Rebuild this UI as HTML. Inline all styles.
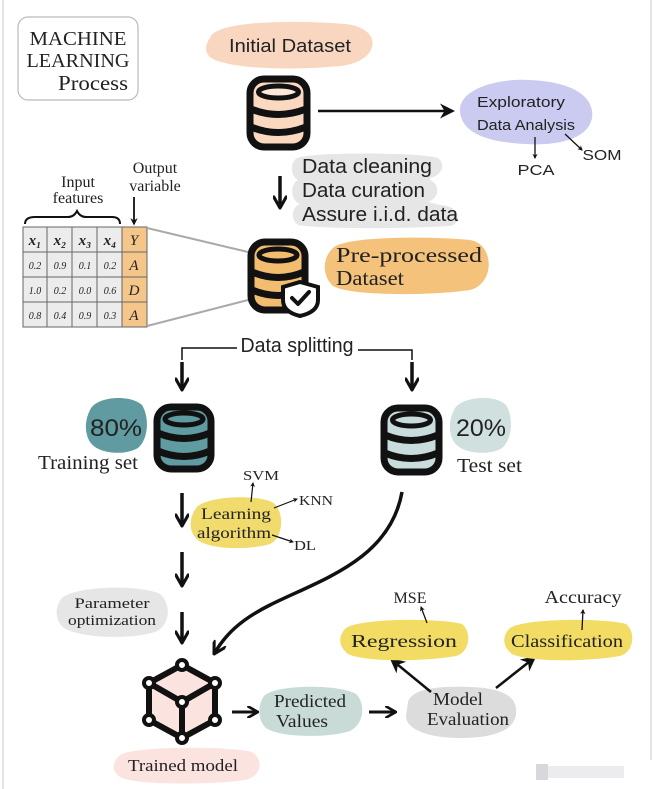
<!DOCTYPE html>
<html><head><meta charset="utf-8"><style>
html,body{margin:0;padding:0;background:#fff}
svg{display:block}
text{font-family:"Liberation Sans",sans-serif;fill:#222}
.s{font-family:"Liberation Serif",serif}
</style></head><body>
<svg width="656" height="789" viewBox="0 0 656 789" xmlns="http://www.w3.org/2000/svg">
<defs>
<marker id="a" viewBox="0 0 10 10" refX="8" refY="5" markerWidth="4" markerHeight="4" orient="auto"><path d="M0,0 L10,5 L0,10 L3,5Z" fill="#111"/></marker>
<marker id="b" viewBox="0 0 10 10" refX="8" refY="5" markerWidth="6" markerHeight="6" orient="auto"><path d="M0,0 L10,5 L0,10 L3,5Z" fill="#111"/></marker>
<marker id="v" viewBox="0 0 10 10" refX="9" refY="5" markerWidth="4" markerHeight="4" orient="auto"><path d="M1,0.5 L9,5 L1,9.5" fill="none" stroke="#111" stroke-width="2.2" stroke-linecap="round" stroke-linejoin="round"/></marker>
</defs>
<rect x="0" y="0" width="656" height="789" fill="#fff"/>
<line x1="3" y1="0" x2="3" y2="789" stroke="#e4e4e4" stroke-width="2"/>
<line x1="651" y1="0" x2="651" y2="760" stroke="#e4e4e4" stroke-width="2"/>

<!-- title -->
<rect x="18" y="17" width="120" height="83" rx="10" fill="#fff" stroke="#bbb" stroke-width="1.2"/>
<text x="78" y="45" text-anchor="middle" font-size="20" textLength="97" lengthAdjust="spacingAndGlyphs" class="s">MACHINE</text>
<text x="78" y="67" text-anchor="middle" font-size="20" textLength="103" lengthAdjust="spacingAndGlyphs" class="s">LEARNING</text>
<text x="128" y="90" text-anchor="end" font-size="21" textLength="70" lengthAdjust="spacingAndGlyphs" class="s">Process</text>

<!-- Initial dataset -->
<path d="M210,38 C215,20 300,20 345,24 C385,28 380,62 340,66 C300,70 240,70 215,60 C203,55 205,45 210,38Z" fill="#f9d6bf"/>
<text x="290" y="52" text-anchor="middle" font-size="18" textLength="122" lengthAdjust="spacingAndGlyphs">Initial Dataset</text>

<!-- DB1 -->
<g stroke="#111" stroke-width="7" fill="#fbd8c0">
<rect x="250" y="79" width="57" height="68" rx="14"/>
<ellipse cx="278.5" cy="92" rx="20" ry="6" fill="#fde7d8" stroke-width="5"/>
<path d="M251,109 Q278,120 306,109 M251,127 Q278,138 306,127" fill="none"/>
</g>
<line x1="318" y1="111" x2="452" y2="111" stroke="#111" stroke-width="2.5" marker-end="url(#b)"/>

<!-- EDA -->
<path d="M460,112 C458,88 500,78 530,80 C575,82 595,98 592,118 C588,140 555,146 525,144 C485,142 462,132 460,112Z" fill="#cbcaf0"/>
<text x="521" y="107" text-anchor="middle" font-size="15" textLength="88" lengthAdjust="spacingAndGlyphs">Exploratory</text>
<text x="526" y="130" text-anchor="middle" font-size="15" textLength="98" lengthAdjust="spacingAndGlyphs">Data Analysis</text>
<line x1="535" y1="137" x2="535" y2="158" stroke="#111" stroke-width="1.3" marker-end="url(#a)"/>
<line x1="565" y1="134" x2="582" y2="150" stroke="#111" stroke-width="1.3" marker-end="url(#a)"/>
<text x="536" y="175" text-anchor="middle" font-size="15" textLength="37" lengthAdjust="spacingAndGlyphs">PCA</text>
<text x="602" y="160" text-anchor="middle" font-size="15" textLength="39" lengthAdjust="spacingAndGlyphs">SOM</text>

<!-- cleaning -->
<path d="M297,158 C310,152 420,152 438,158 C446,164 442,176 430,178 L430,180 C440,184 440,198 428,202 L440,205 C462,206 462,224 450,226 C400,229 320,229 298,225 C290,220 292,206 300,204 C290,200 290,184 298,180 C290,176 290,162 297,158Z" fill="#e6e6e6"/>
<text x="302" y="173" font-size="20" textLength="130" lengthAdjust="spacingAndGlyphs">Data cleaning</text>
<text x="302" y="197" font-size="20" textLength="123" lengthAdjust="spacingAndGlyphs">Data curation</text>
<text x="302" y="221" font-size="20" textLength="156" lengthAdjust="spacingAndGlyphs">Assure i.i.d. data</text>
<line x1="280" y1="176" x2="280" y2="208" stroke="#111" stroke-width="3.5" marker-end="url(#v)"/>

<!-- table -->
<text x="78" y="187" text-anchor="middle" font-size="16" class="s">Input</text>
<text x="78" y="203" text-anchor="middle" font-size="16" class="s">features</text>
<text x="155" y="173" text-anchor="middle" font-size="16" class="s">Output</text>
<text x="155" y="191" text-anchor="middle" font-size="16" class="s">variable</text>
<path d="M25,224 Q25,217 35,217 L68,217 Q74,217 77,211 Q80,217 86,217 L112,217 Q120,217 120,224" fill="none" stroke="#111" stroke-width="2"/>
<line x1="134" y1="197" x2="134" y2="224" stroke="#111" stroke-width="1.8" marker-end="url(#a)"/>
<rect x="23" y="227" width="99" height="100" fill="#ececec"/>
<rect x="122" y="227" width="25" height="100" fill="#f5c68a"/>
<g stroke="#666" stroke-width="1">
<rect x="23" y="227" width="124" height="100" fill="none"/>
<line x1="47" y1="227" x2="47" y2="327"/><line x1="72" y1="227" x2="72" y2="327"/><line x1="97" y1="227" x2="97" y2="327"/><line x1="122" y1="227" x2="122" y2="327"/>
<line x1="23" y1="252" x2="147" y2="252"/><line x1="23" y1="277" x2="147" y2="277"/><line x1="23" y1="302" x2="147" y2="302"/>
</g>
<g class="s" font-style="italic" font-size="10">
<text x="35" y="245" font-size="15" font-weight="bold" text-anchor="middle" class="s">x₁</text>
<text x="60" y="245" font-size="15" font-weight="bold" text-anchor="middle" class="s">x₂</text>
<text x="85" y="245" font-size="15" font-weight="bold" text-anchor="middle" class="s">x₃</text>
<text x="110" y="245" font-size="15" font-weight="bold" text-anchor="middle" class="s">x₄</text>
<text x="134" y="245" font-size="15" text-anchor="middle" class="s" font-style="italic">Y</text>
<text x="35" y="269" text-anchor="middle" class="s" font-style="italic" font-size="10">0.2</text>
<text x="60" y="269" text-anchor="middle" class="s" font-style="italic" font-size="10">0.9</text>
<text x="85" y="269" text-anchor="middle" class="s" font-style="italic" font-size="10">0.1</text>
<text x="110" y="269" text-anchor="middle" class="s" font-style="italic" font-size="10">0.2</text>
<text x="134" y="270" text-anchor="middle" class="s" font-style="italic" font-size="15">A</text>
<text x="35" y="294" text-anchor="middle" class="s" font-style="italic" font-size="10">1.0</text>
<text x="60" y="294" text-anchor="middle" class="s" font-style="italic" font-size="10">0.2</text>
<text x="85" y="294" text-anchor="middle" class="s" font-style="italic" font-size="10">0.0</text>
<text x="110" y="294" text-anchor="middle" class="s" font-style="italic" font-size="10">0.6</text>
<text x="134" y="295" text-anchor="middle" class="s" font-style="italic" font-size="15">D</text>
<text x="35" y="319" text-anchor="middle" class="s" font-style="italic" font-size="10">0.8</text>
<text x="60" y="319" text-anchor="middle" class="s" font-style="italic" font-size="10">0.4</text>
<text x="85" y="319" text-anchor="middle" class="s" font-style="italic" font-size="10">0.9</text>
<text x="110" y="319" text-anchor="middle" class="s" font-style="italic" font-size="10">0.3</text>
<text x="134" y="320" text-anchor="middle" class="s" font-style="italic" font-size="15">A</text>
</g>
<line x1="147" y1="228" x2="248" y2="252" stroke="#aaa" stroke-width="2"/>
<line x1="147" y1="326" x2="248" y2="300" stroke="#aaa" stroke-width="2"/>

<!-- DB2 -->
<g stroke="#111" stroke-width="7" fill="#f2bd6f">
<rect x="251" y="242" width="54" height="68" rx="14"/>
<ellipse cx="278" cy="255" rx="19" ry="6" stroke-width="5"/>
<path d="M252,272 Q278,283 304,272 M252,290 Q278,301 304,290" fill="none"/>
</g>
<path d="M300,282 L318,287 L318,300 Q318,312 300,316 Q283,312 283,300 L283,287Z" fill="#fff" stroke="#111" stroke-width="4"/>
<path d="M292,298 L298,304 L309,292" fill="none" stroke="#111" stroke-width="4" stroke-linecap="round" stroke-linejoin="round"/>
<path d="M333,248 C345,236 430,236 470,240 C495,244 495,284 470,290 C430,296 350,296 333,286 C322,276 322,258 333,248Z" fill="#f4c27a"/>
<text x="336" y="262" font-size="21" textLength="146" lengthAdjust="spacingAndGlyphs" class="s">Pre-processed</text>
<text x="336" y="285" font-size="21" textLength="68" lengthAdjust="spacingAndGlyphs" class="s">Dataset</text>

<!-- splitting -->
<text x="297" y="352" text-anchor="middle" font-size="20" textLength="113" lengthAdjust="spacingAndGlyphs">Data splitting</text>
<path d="M237,348 L182,348 L182,360" fill="none" stroke="#111" stroke-width="1.5"/>
<path d="M358,350 L412,350 L412,360" fill="none" stroke="#111" stroke-width="1.5"/>
<line x1="182" y1="362" x2="182" y2="390" stroke="#111" stroke-width="3.5" marker-end="url(#v)"/>
<line x1="412" y1="362" x2="412" y2="390" stroke="#111" stroke-width="3.5" marker-end="url(#v)"/>

<!-- training -->
<path d="M90,410 C96,396 130,394 142,405 C150,418 148,440 138,448 C124,456 98,454 90,442 C84,432 85,420 90,410Z" fill="#5f9ba1"/>
<text x="116" y="436" text-anchor="middle" font-size="24" textLength="52" lengthAdjust="spacingAndGlyphs">80%</text>
<text x="38" y="469" font-size="20" textLength="100" lengthAdjust="spacingAndGlyphs" class="s">Training set</text>
<g stroke="#111" stroke-width="7" fill="#5f9ba1">
<rect x="157" y="407" width="54" height="62" rx="14"/>
<ellipse cx="184" cy="419" rx="19" ry="6" stroke-width="5"/>
<path d="M158,433 Q184,444 210,433 M158,451 Q184,462 210,451" fill="none"/>
</g>

<!-- test -->
<g stroke="#111" stroke-width="7" fill="#c9dcdc">
<rect x="384" y="408" width="55" height="64" rx="14"/>
<ellipse cx="411.5" cy="420" rx="19" ry="6" stroke-width="5"/>
<path d="M385,435 Q411,446 438,435 M385,453 Q411,464 438,453" fill="none"/>
</g>
<path d="M454,410 C460,396 496,394 506,405 C514,418 512,440 502,448 C490,456 462,454 454,442 C448,432 449,420 454,410Z" fill="#cfe0de"/>
<text x="481" y="436" text-anchor="middle" font-size="24" textLength="50" lengthAdjust="spacingAndGlyphs">20%</text>
<text x="457" y="472" font-size="20" textLength="65" lengthAdjust="spacingAndGlyphs" class="s">Test set</text>

<!-- learning -->
<line x1="182" y1="493" x2="182" y2="526" stroke="#111" stroke-width="3.5" marker-end="url(#v)"/>
<path d="M196,508 C205,496 255,494 272,502 C285,510 284,538 270,544 C250,550 210,550 198,540 C188,532 189,518 196,508Z" fill="#f0db6c"/>
<text x="236" y="519" text-anchor="middle" font-size="16" textLength="70" lengthAdjust="spacingAndGlyphs" class="s">Learning</text>
<text x="234" y="538" text-anchor="middle" font-size="16" textLength="74" lengthAdjust="spacingAndGlyphs" class="s">algorithm</text>
<line x1="251" y1="502" x2="253" y2="483" stroke="#111" stroke-width="1.2" marker-end="url(#a)"/>
<line x1="274" y1="508" x2="297" y2="499" stroke="#111" stroke-width="1.2" marker-end="url(#a)"/>
<line x1="272" y1="535" x2="293" y2="542" stroke="#111" stroke-width="1.2" marker-end="url(#a)"/>
<text x="261" y="480" text-anchor="middle" font-size="14" textLength="36" lengthAdjust="spacingAndGlyphs" class="s">SVM</text>
<text x="316" y="505" text-anchor="middle" font-size="14" textLength="34" lengthAdjust="spacingAndGlyphs" class="s">KNN</text>
<text x="305" y="550" text-anchor="middle" font-size="14" textLength="22" lengthAdjust="spacingAndGlyphs" class="s">DL</text>

<!-- param -->
<line x1="182" y1="552" x2="182" y2="586" stroke="#111" stroke-width="3.5" marker-end="url(#v)"/>
<path d="M62,598 C75,586 140,584 160,594 C172,604 170,626 155,632 C130,640 80,638 64,628 C54,620 55,606 62,598Z" fill="#e6e6e6"/>
<text x="112" y="608" text-anchor="middle" font-size="15" textLength="75" lengthAdjust="spacingAndGlyphs" class="s">Parameter</text>
<text x="112" y="625" text-anchor="middle" font-size="15" textLength="88" lengthAdjust="spacingAndGlyphs" class="s">optimization</text>
<line x1="182" y1="612" x2="182" y2="643" stroke="#111" stroke-width="3.5" marker-end="url(#v)"/>

<!-- test curve -->
<path d="M402,492 C390,560 320,580 270,605 C240,620 225,635 214,654" fill="none" stroke="#111" stroke-width="3.5" marker-end="url(#v)"/>

<!-- cube -->
<path d="M182,665 L215,683 L215,720 L182,738 L149,720 L149,683Z" fill="#fbe3e0" stroke="#111" stroke-width="6" stroke-linejoin="round"/>
<path d="M149,683 L182,702 L215,683 M182,702 L182,738" fill="none" stroke="#111" stroke-width="6"/>
<g fill="#fff" stroke="#111" stroke-width="4">
<circle cx="182" cy="665" r="5"/><circle cx="215" cy="683" r="5"/><circle cx="149" cy="683" r="5"/><circle cx="182" cy="702" r="5"/><circle cx="149" cy="720" r="5"/><circle cx="215" cy="720" r="5"/><circle cx="182" cy="738" r="5"/>
</g>
<path d="M122,754 C140,746 230,746 252,752 C264,760 262,776 245,780 C210,785 140,785 122,778 C110,772 112,760 122,754Z" fill="#fbe3df"/>
<text x="183" y="771" text-anchor="middle" font-size="17" textLength="110" lengthAdjust="spacingAndGlyphs" class="s">Trained model</text>

<!-- predicted -->
<line x1="232" y1="712" x2="258" y2="712" stroke="#111" stroke-width="3" marker-end="url(#v)"/>
<path d="M264,696 C275,684 340,684 356,694 C366,704 364,724 350,731 C330,738 280,738 266,728 C257,720 258,704 264,696Z" fill="#c8dbd6"/>
<text x="310" y="707" text-anchor="middle" font-size="18" textLength="72" lengthAdjust="spacingAndGlyphs" class="s">Predicted</text>
<text x="302" y="727" text-anchor="middle" font-size="18" textLength="52" lengthAdjust="spacingAndGlyphs" class="s">Values</text>
<line x1="369" y1="712" x2="396" y2="712" stroke="#111" stroke-width="3" marker-end="url(#v)"/>

<!-- eval -->
<path d="M408,702 C412,688 440,686 470,687 C505,688 518,698 516,714 C514,732 490,738 460,738 C430,738 406,730 406,716 Z" fill="#dcdcdc"/>
<text x="458" y="705" text-anchor="middle" font-size="18" textLength="50" lengthAdjust="spacingAndGlyphs" class="s">Model</text>
<text x="468" y="725" text-anchor="middle" font-size="18" textLength="82" lengthAdjust="spacingAndGlyphs" class="s">Evaluation</text>
<line x1="431" y1="692" x2="392" y2="660" stroke="#111" stroke-width="2.5" marker-end="url(#b)"/>
<line x1="496" y1="688" x2="534" y2="658" stroke="#111" stroke-width="2.5" marker-end="url(#b)"/>

<!-- regression -->
<path d="M346,628 C360,618 440,618 462,624 C472,632 470,652 456,656 C420,662 365,662 348,654 C338,646 338,636 346,628Z" fill="#f2dc63"/>
<text x="404" y="647" text-anchor="middle" font-size="18" textLength="106" lengthAdjust="spacingAndGlyphs" class="s">Regression</text>
<line x1="427" y1="623" x2="421" y2="607" stroke="#111" stroke-width="1.3" marker-end="url(#a)"/>
<text x="410" y="603" text-anchor="middle" font-size="16" textLength="33" lengthAdjust="spacingAndGlyphs" class="s">MSE</text>

<!-- classification -->
<path d="M510,628 C525,618 605,618 626,624 C636,632 634,652 620,656 C585,662 528,662 512,654 C502,646 502,636 510,628Z" fill="#f2dc63"/>
<text x="567" y="647" text-anchor="middle" font-size="18" textLength="112" lengthAdjust="spacingAndGlyphs" class="s">Classification</text>
<line x1="582" y1="630" x2="583" y2="610" stroke="#111" stroke-width="1.3" marker-end="url(#a)"/>
<text x="583" y="603" text-anchor="middle" font-size="18" textLength="77" lengthAdjust="spacingAndGlyphs" class="s">Accuracy</text>

<!-- watermark -->
<rect x="536" y="764" width="12" height="16" fill="#d8d8dc"/>
<rect x="548" y="766" width="76" height="12" fill="#ececee"/>
</svg>
</body></html>
